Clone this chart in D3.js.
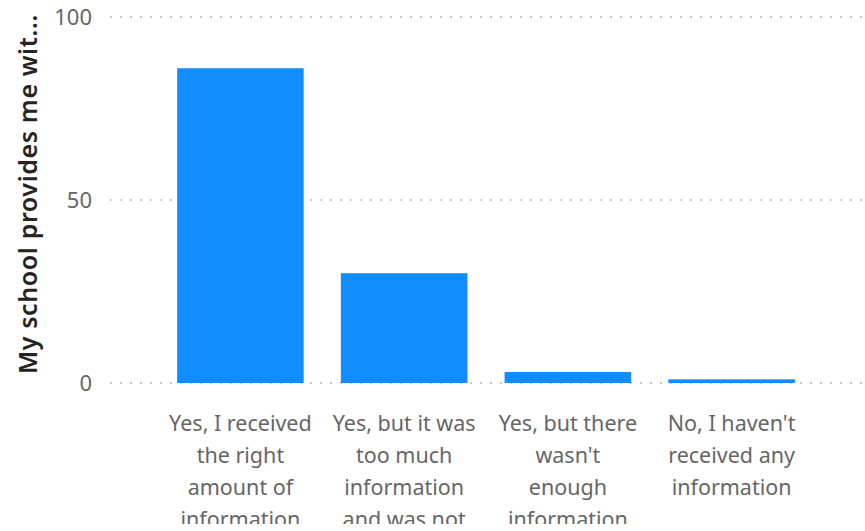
<!DOCTYPE html>
<html><head><meta charset="utf-8">
<script src="https://cdn.jsdelivr.net/npm/d3@7"></script>
<style>
html,body{margin:0;padding:0;background:#fff;overflow:hidden;}
svg{display:block;}
</style></head>
<body>
<svg id="chart" width="865" height="531"></svg>
<script>
const categories = [
  "Yes, I received the right amount of information",
  "Yes, but it was too much information and was not ...",
  "Yes, but there wasn't enough information",
  "No, I haven't received any information"
];
// explicit wrapped lines of each category label, as shown
const categoryLines = [
  ["Yes, I received", "the right", "amount of", "information"],
  ["Yes, but it was", "too much", "information", "and was not"],
  ["Yes, but there", "wasn't", "enough", "information"],
  ["No, I haven't", "received any", "information"]
];
const values = [86, 30, 3, 1];
const yTicks = [0, 50, 100];
const yTitle = "My school provides me wit...";

const W = 865, H = 531;
const font = "'Segoe UI','Noto Sans','Open Sans',sans-serif";
const svg = d3.select("#chart");

svg.append("defs").append("clipPath").attr("id", "xclip")
  .append("rect").attr("x", 0).attr("y", 390).attr("width", W).attr("height", 134);

const x = d3.scaleBand().domain(categories).range([110, 862]).paddingInner(0.227).paddingOuter(0.41);
const y = d3.scaleLinear().domain([0, 100]).range([383, 17]);

// gridlines
svg.append("g").selectAll("line").data(yTicks).join("line")
  .attr("x1", 110).attr("x2", 862)
  .attr("y1", d => y(d)).attr("y2", d => y(d))
  .attr("stroke", "#c8c8c8").attr("stroke-width", 2)
  .attr("stroke-dasharray", "2,8");

// y tick labels
const yAxis = d3.axisLeft(y).tickValues(yTicks).tickSize(0).tickPadding(0);
const gy = svg.append("g").attr("transform", "translate(92,0)").call(yAxis);
gy.select(".domain").remove();
gy.selectAll("text").attr("font-family", font).attr("font-size", 22).attr("fill", "#666666");

// bars
svg.append("g").selectAll("rect").data(values).join("rect")
  .attr("x", (d, i) => x(categories[i]))
  .attr("width", x.bandwidth())
  .attr("y", d => y(d))
  .attr("height", d => y(0) - y(d))
  .attr("fill", "#118dff");

// x labels
const xAxis = d3.axisBottom(x).tickSize(0).tickPadding(0);
const gx = svg.append("g").attr("clip-path", "url(#xclip)").call(xAxis);
gx.select(".domain").remove();
gx.selectAll("text").each(function(d, i) {
  const t = d3.select(this);
  t.text(null).attr("y", 0).attr("dy", null)
   .attr("font-family", font).attr("font-size", 21.5).attr("fill", "#666666")
   .attr("text-anchor", "middle");
  categoryLines[i].forEach((l, j) => {
    t.append("tspan").attr("x", 0).attr("y", 431 + j * 32).text(l);
  });
});

// y title
svg.append("text")
  .attr("transform", `translate(37,${(10 + 378) / 2}) rotate(-90)`)
  .attr("text-anchor", "middle")
  .attr("font-family", font).attr("font-size", 25).attr("font-weight", 600)
  .attr("letter-spacing", 0.6)
  .attr("fill", "#252423")
  .text(yTitle);
</script>
</body></html>
